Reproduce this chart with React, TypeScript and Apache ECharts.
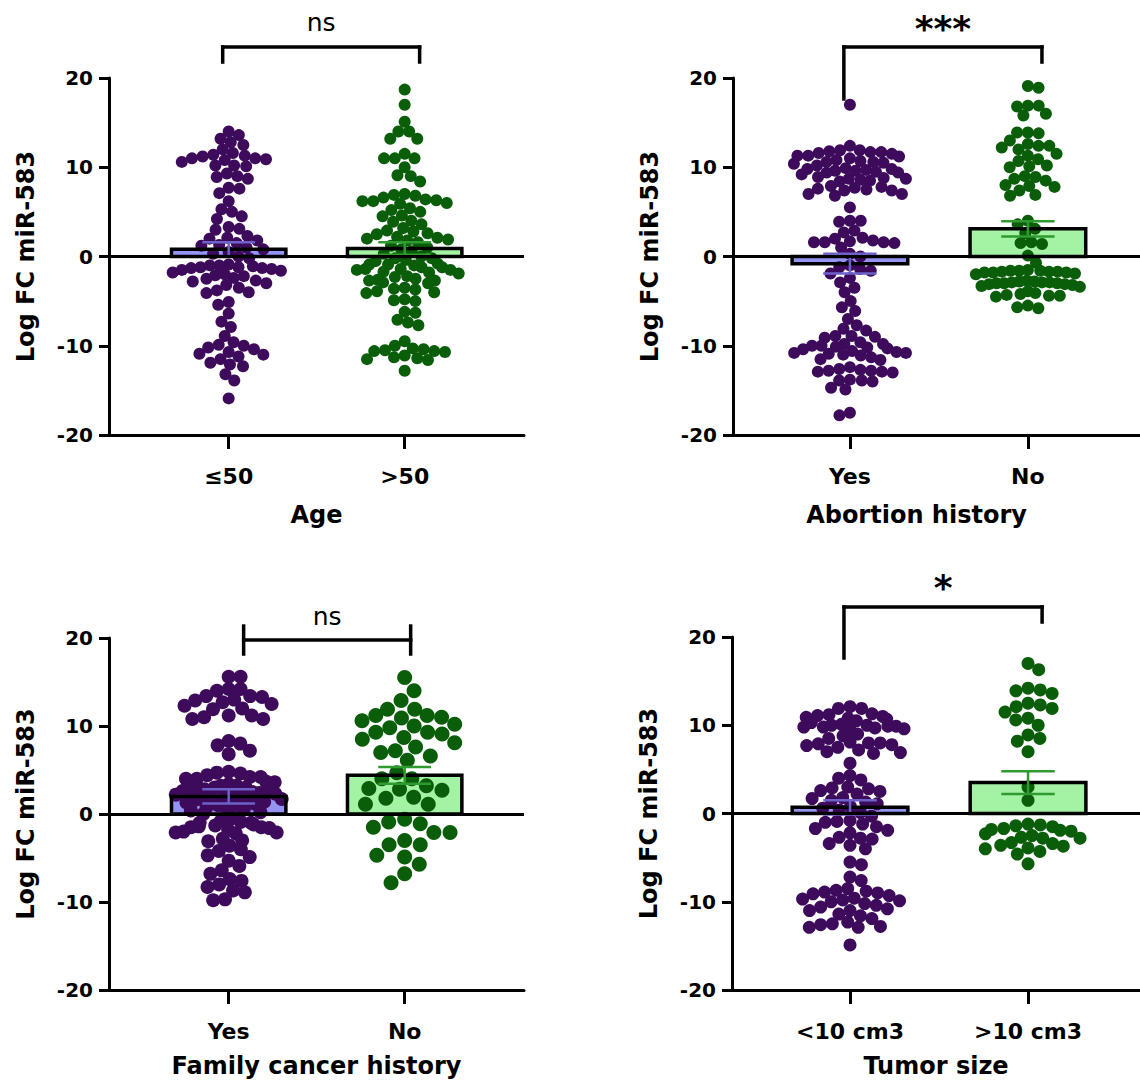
import React, { useEffect, useRef } from "react";
import * as echarts from "echarts";

// ---------- categories ----------
const ageCats = ["≤50", ">50"];
const abortionCats = ["Yes", "No"];
const familyCats = ["Yes", "No"];
const tumorCats = ["<10 cm3", ">10 cm3"];

const xTitles = ["Age", "Abortion history", "Family cancer history", "Tumor size"];
const yTitle = "Log FC miR-583";
const yTicks = [-20, -10, 0, 10, 20];
const sigLabels = ["ns", "***", "ns", "*"];

// ---------- individual values (Log FC miR-583) ----------
const ageLe50 = [
  14.0, 13.6, 13.2, 12.8, 12.5, 12.0, 11.6, 11.3, 11.0, 11.0, 11.2, 10.9, 10.8, 10.6, 10.2, 10.2, 10.1, 11.4,
  9.3, 9.0, 8.9, 8.7, 7.7, 7.6, 7.1, 6.2, 5.3, 5.0, 4.5, 4.2, 3.3, 3.1, 3.0,
  2.3, 2.1, 2.0, 1.8, 1.5, 1.3, 1.2, 1.0, 0.8, 0.5, 0.3, 0.0, -0.2,
  -0.9, -1.0, -1.1, -1.2, -1.2, -1.3, -1.4, -1.5, -1.6, -1.0, -1.3,
  -1.8, -2.0, -2.1, -2.2, -2.4, -2.5, -2.7, -2.8, -3.0, -3.2, -3.5, -3.8, -4.0, -4.1,
  -5.1, -5.4, -6.4, -7.3, -7.9, -8.9,
  -9.6, -9.9, -10.0, -10.2, -10.4, -10.7, -10.9, -11.0, -11.2, -11.5, -11.9, -12.1, -12.3, -13.2, -13.9, -15.9,
];
const ageGt50 = [
  18.7, 17.0, 15.1, 14.0, 14.0, 13.2, 13.2, 11.5, 11.0, 11.0, 11.0, 10.0, 9.1, 9.0, 8.4,
  7.0, 6.9, 6.8, 6.6, 6.4, 6.3, 6.2, 6.2, 6.0, 5.9, 5.4, 5.2, 5.0, 4.6, 4.5,
  4.0, 3.9, 3.6, 3.2, 2.9, 2.8, 2.6, 2.5, 2.2, 2.1, 2.0, 1.9, 1.8, 1.6,
  1.2, 1.0, 0.8, 0.6, 0.3, 0.0, -0.2, -0.4,
  -0.5, -0.8, -0.9, -0.9, -1.0, -1.2, -1.2, -1.4, -1.4, -1.5, -1.5, -1.7, -1.8, -1.9, -0.2,
  -2.2, -2.3, -2.5, -2.6, -2.7, -2.7, -2.9, -3.0, -3.5, -3.6, -3.7, -3.9, -4.0, -4.1,
  -4.8, -4.9, -5.0, -6.2, -6.3, -7.1, -7.4, -7.7,
  -9.5, -10.0, -10.3, -10.4, -10.5, -10.6, -10.6, -10.7, -11.1, -11.3, -11.4, -11.5, -11.6, -12.8,
];
const abortionYes = [
  17.0,
  12.4, 11.9, 11.9, 11.8, 11.7, 11.7, 11.6, 11.5, 11.3, 11.3, 11.2, 11.0,
  10.8, 10.7, 10.6, 10.6, 10.5, 10.4, 10.2, 9.9, 9.8, 9.8, 9.7, 9.6, 9.6, 9.5, 9.4, 9.4, 9.2,
  8.9, 8.8, 8.7, 8.7, 8.6, 8.5, 8.4, 7.9, 7.8, 7.7, 7.6, 7.5, 7.4, 7.4, 7.0, 7.0, 6.8,
  5.5, 4.0, 4.0, 3.9, 2.9, 2.7, 2.1, 2.0, 1.8, 1.7, 1.6, 1.6, 1.6, 1.5, 1.0, 0.3, 0.0,
  -1.0, -1.2, -1.4, -1.6, -1.9, -2.4, -2.9, -3.5, -4.0, -5.0, -5.7, -6.1, -7.0, -7.7, -8.1, -8.3, -8.9, -8.9, -9.0, -9.1,
  -9.6, -9.8, -9.8, -10.0, -10.0, -10.1, -10.2, -10.3, -10.4, -10.6, -10.7, -10.8, -10.8, -10.9, -11.0, -11.1, -11.3, -11.5, -11.6,
  -12.4, -12.6, -12.7, -12.8, -12.8, -12.9, -12.9, -13.0, -13.9, -13.9, -13.8, -14.0, -14.7, -14.9, -17.5, -17.8,
];
const abortionNo = [
  19.1, 18.9, 16.9, 16.9, 16.8, 16.0, 15.8, 13.9, 13.9, 13.8, 13.0, 12.6, 12.4, 12.4, 12.2, 12.0, 11.5, 11.3,
  10.9, 10.7, 10.2, 10.1, 10.0, 9.0, 8.9, 8.7, 8.5, 8.0, 7.9, 7.8, 7.4, 6.9, 6.8,
  4.0, 3.6, 3.1, 2.6, 1.6, 1.5, 1.4, 0.1,
  -0.7, -1.5, -1.6, -1.6, -1.6, -1.7, -1.7, -1.7, -1.8, -1.8, -1.8, -1.9, -2.0,
  -2.7, -2.8, -2.8, -2.9, -2.9, -2.9, -3.0, -3.0, -3.0, -3.1, -3.1, -3.2, -3.3, -3.4,
  -3.9, -4.1, -4.2, -4.3, -4.4, -4.4, -4.5, -5.5, -5.7, -5.8,
];
const familyYes = [
  15.6, 15.6, 14.2, 14.2, 14.0, 13.4, 13.4, 13.3, 13.0, 12.9, 12.7, 12.5, 12.3, 12.0, 11.9, 11.2, 11.2, 11.0, 10.8, 10.8,
  8.3, 8.0, 7.8, 7.2, 6.8,
  4.8, 4.7, 4.6, 4.4, 4.2, 4.2, 4.0, 4.0, 3.7, 3.6, 3.4, 3.2, 3.2, 3.0, 3.0, 2.9, 2.8, 2.8, 2.7, 2.6, 2.5, 2.4, 2.3, 2.2, 2.1, 2.0,
  1.9, 1.8, 1.7, 1.7, 1.6, 1.5, 1.4, 1.3, 1.2, 1.0, 0.9, 0.8, 0.7, 0.5, 0.4, 0.2, 0.0,
  -0.5, -0.8, -0.9, -1.0, -1.0, -1.2, -1.3, -1.4, -1.5, -1.5, -1.6, -1.8, -2.0, -2.1, -2.1, -2.2,
  -2.8, -3.0, -3.1, -3.6, -4.0, -4.2, -4.7, -4.9, -5.3, -5.9, -6.4, -6.8,
  -7.4, -7.6, -8.0, -8.3, -8.7, -8.9, -9.7, -9.8,
];
const familyNo = [
  15.5, 14.0, 12.9, 11.9, 11.9, 11.2, 11.0, 10.6, 10.9, 11.2, 10.0, 10.2, 9.8, 9.3, 9.3, 8.1, 8.7, 9.1, 8.5,
  7.2, 7.0, 7.6, 6.6, 6.1, 4.7, 4.0, 4.0, 2.8, 2.7, 2.9, 3.2, 1.8, 1.9, 1.1, 1.1,
  -0.6, -1.1, -0.9, -2.1, -1.5, -2.1, -3.0, -3.5, -3.5, -4.7, -4.9, -5.7, -6.8, -7.8,
];
const tumorSmall = [
  12.1, 11.9, 11.9, 11.3, 11.2, 11.1, 11.0, 10.9, 10.8, 10.7, 10.5, 10.3, 10.1, 10.0, 10.0, 9.9, 9.9, 9.8, 9.8, 9.7, 9.6, 9.5,
  9.0, 8.8, 8.5, 8.1, 8.0, 8.0, 7.9, 7.8, 7.7, 7.5, 7.2, 7.0, 6.9, 6.8,
  5.7, 4.3, 4.0, 3.8, 3.0, 2.9, 2.8, 2.6, 2.5, 2.2, 1.8, 1.7, 1.5, 1.3, 1.1, 0.8, 0.6, 0.4, 0.1,
  -0.3, -0.8, -0.9, -1.0, -1.2, -1.5, -1.7, -1.9, -2.2, -2.7, -2.8, -2.9, -3.4, -3.6, -4.0, -5.5, -5.8,
  -7.2, -7.6, -8.5, -8.7, -8.8, -8.9, -9.0, -9.1, -9.3, -9.6, -9.7, -9.8, -9.9, -10.0, -10.2, -10.4, -10.6, -10.8,
  -11.0, -11.0, -11.4, -11.6, -11.9, -12.3, -12.5, -12.6, -12.8, -12.9, -12.9, -14.9,
];
const tumorLarge = [
  17.0, 16.3, 14.2, 14.0, 13.9, 13.6, 12.5, 12.3, 12.1, 11.9, 11.5, 10.8, 10.6, 10.0, 8.9, 8.5, 8.2, 7.0, 3.0, 1.5,
  -1.2, -1.3, -1.4, -1.5, -1.7, -1.8, -1.9, -2.0, -2.3, -2.5, -2.7, -2.8, -2.8, -3.3, -3.4, -3.6, -3.7, -3.9, -4.0,
  -4.3, -4.6, -5.7,
];

// ---------- bar heights (mean) and error (SEM) ----------
const ageMean = [0.8, 0.9];
const ageSem = [0.8, 0.7];
const abortionMean = [-0.8, 3.1];
const abortionSem = [1.1, 0.85];
const familyMean = [2.0, 4.4];
const familySem = [0.8, 0.95];
const tumorMean = [0.7, 3.5];
const tumorSem = [0.8, 1.3];

// ---------- layout / style ----------
const FONT = "DejaVu Sans";
const PURPLE = "#3e0b5c";
const GREEN = "#0a5e0a";
const FILLS = ["#9494f2", "#a4f2a4"];
const ERR = ["#6d62c8", "#2f9a2f"];

type Panel = {
  cats: string[];
  groups: number[][];
  mean: number[];
  sem: number[];
  grid: { left: number; top: number; width: number; height: number };
  xMin: number;
  xMax: number;
  dots: number[];
  spacing: number[];
  halfW: number[];
  titlePad: number;
  nameGap: number;
  bracket: { x1: number; x2: number; yBar: number; l: [number, number]; r: [number, number]; textDy: number; big: boolean };
};

const panels: Panel[] = [
  {
    cats: ageCats, groups: [ageLe50, ageGt50], mean: ageMean, sem: ageSem,
    grid: { left: 109, top: 78, width: 415, height: 357 }, xMin: 0.32, xMax: 2.678,
    dots: [12, 12], spacing: [0.9, 0.9], halfW: [56, 54], titlePad: 0, nameGap: 68,
    bracket: { x1: 0.966, x2: 2.085, yBar: 23.47, l: [23.47, 21.79], r: [23.47, 21.79], textDy: 25, big: false },
  },
  {
    cats: abortionCats, groups: [abortionYes, abortionNo], mean: abortionMean, sem: abortionSem,
    grid: { left: 733, top: 78, width: 407, height: 357 }, xMin: 0.343, xMax: 2.63,
    dots: [12, 12], spacing: [0.9, 0.9], halfW: [56, 52], titlePad: 40, nameGap: 68,
    bracket: { x1: 0.966, x2: 2.079, yBar: 23.47, l: [23.47, 17.65], r: [23.47, 21.79], textDy: 19, big: true },
  },
  {
    cats: familyCats, groups: [familyYes, familyNo], mean: familyMean, sem: familySem,
    grid: { left: 109, top: 638, width: 415, height: 352 }, xMin: 0.32, xMax: 2.678,
    dots: [14, 15], spacing: [0.85, 1.08], halfW: [53, 50], titlePad: 0, nameGap: 64,
    bracket: { x1: 1.085, x2: 2.034, yBar: 19.77, l: [21.36, 18.18], r: [21.36, 18.18], textDy: 24, big: false },
  },
  {
    cats: tumorCats, groups: [tumorSmall, tumorLarge], mean: tumorMean, sem: tumorSem,
    grid: { left: 732, top: 637, width: 408, height: 353 }, xMin: 0.337, xMax: 2.629,
    dots: [13, 13], spacing: [0.9, 0.95], halfW: [54, 52], titlePad: 0, nameGap: 64,
    bracket: { x1: 0.966, x2: 2.079, yBar: 23.4, l: [23.4, 17.62], r: [23.4, 21.7], textDy: 19, big: true },
  },
];

// beeswarm layout (horizontal offsets in data units), then squeezed locally
// so each column stays within +-halfW pixels like a GraphPad scatter column
function swarm(values: number[], pxPerY: number, pxPerX: number, diam: number, halfW: number): number[] {
  const order = values.map((_, i) => i).sort((a, b) => values[b] - values[a]);
  const placed: { x: number; y: number; i: number }[] = [];
  const d2 = diam * diam;
  let flip = 1;
  for (const i of order) {
    const y = values[i] * pxPerY;
    const cands: number[] = [0];
    for (const p of placed) {
      const dy = Math.abs(p.y - y);
      if (dy < diam) {
        const dx = Math.sqrt(d2 - dy * dy);
        cands.push(p.x + dx, p.x - dx);
      }
    }
    cands.sort((a, b) => Math.abs(a) - Math.abs(b) || (a - b) * flip);
    flip = -flip;
    let chosen = 0;
    for (const c of cands) {
      let ok = true;
      for (const p of placed) {
        const dx = p.x - c;
        const dy = p.y - y;
        if (dx * dx + dy * dy < d2 - 0.01) { ok = false; break; }
      }
      if (ok) { chosen = c; break; }
    }
    placed.push({ x: chosen, y, i });
  }
  const out: number[] = new Array(values.length).fill(0);
  for (const p of placed) {
    let m = 0;
    for (const q of placed) {
      if (Math.abs(q.y - p.y) < diam * 0.7) m = Math.max(m, Math.abs(q.x));
    }
    const x = m > halfW ? (p.x * halfW) / m : p.x;
    out[p.i] = x / pxPerX;
  }
  return out;
}

const BAR_W = 0.65;
const CAP_W = 0.3;

function buildOption() {
  const grid: any[] = [];
  const xAxis: any[] = [];
  const yAxis: any[] = [];
  const series: any[] = [];

  panels.forEach((p, k) => {
    grid.push({ ...p.grid, containLabel: false });
    const pxPerX = p.grid.width / (p.xMax - p.xMin);
    const pxPerY = p.grid.height / 40;
    xAxis.push({
      gridIndex: k, type: "value", min: p.xMin, max: p.xMax,
      axisLine: { show: true, onZero: false, lineStyle: { color: "#000", width: 3 } },
      axisTick: { show: true, customValues: [1, 2], length: 14, lineStyle: { color: "#000", width: 3 } },
      axisLabel: {
        show: true, customValues: [1, 2], margin: 30, color: "#000", fontFamily: FONT, fontWeight: "bold", fontSize: 22,
        formatter: (v: number) => p.cats[Math.round(v) - 1] ?? "",
      },
      splitLine: { show: false },
      name: xTitles[k], nameLocation: "middle", nameGap: p.nameGap,
      nameTextStyle: {
        color: "#000", fontFamily: FONT, fontWeight: "bold", fontSize: 24,
        padding: [0, p.titlePad, 0, 0],
      },
    });
    yAxis.push({
      gridIndex: k, type: "value", min: yTicks[0], max: yTicks[yTicks.length - 1], interval: 10,
      axisLine: { show: true, onZero: false, lineStyle: { color: "#000", width: 3 } },
      axisTick: { show: true, length: 10, lineStyle: { color: "#000", width: 3 } },
      axisLabel: { color: "#000", fontFamily: FONT, fontWeight: "bold", fontSize: 20, margin: 16 },
      splitLine: { show: false },
      name: yTitle, nameLocation: "middle", nameGap: 71, nameRotate: 90,
      nameTextStyle: { color: "#000", fontFamily: FONT, fontWeight: "bold", fontSize: 24 },
    });

    const barData = p.mean.map((m, g) => [g + 1, m, p.sem[g], g]);

    // bar fills
    series.push({
      type: "custom", xAxisIndex: k, yAxisIndex: k, z: 1, silent: true,
      encode: { x: 0, y: 1 }, data: barData,
      renderItem: (_: any, api: any) => {
        const x = api.value(0), m = api.value(1), g = api.value(3);
        const a = api.coord([x - BAR_W / 2, 0]);
        const b = api.coord([x + BAR_W / 2, m]);
        return {
          type: "rect",
          shape: { x: a[0], y: Math.min(a[1], b[1]), width: b[0] - a[0], height: Math.abs(a[1] - b[1]) },
          style: { fill: FILLS[g] },
        };
      },
    });

    // dots
    p.groups.forEach((vals, g) => {
      const offs = swarm(vals, pxPerY, pxPerX, p.dots[g] * p.spacing[g], p.halfW[g]);
      series.push({
        type: "scatter", xAxisIndex: k, yAxisIndex: k, z: 2, silent: true,
        symbol: "circle", symbolSize: p.dots[g],
        itemStyle: { color: g === 0 ? PURPLE : GREEN, opacity: 1 },
        data: vals.map((v, i) => [g + 1 + offs[i], v]),
        markLine: g === 0 ? {
          silent: true, symbol: ["none", "none"], label: { show: false },
          lineStyle: { color: "#000", width: 3, type: "solid" },
          data: [{ yAxis: 0 }],
        } : undefined,
      });
    });

    // bar borders + error bars
    series.push({
      type: "custom", xAxisIndex: k, yAxisIndex: k, z: 3, silent: true,
      encode: { x: 0, y: 1 }, data: barData,
      renderItem: (_: any, api: any) => {
        const x = api.value(0), m = api.value(1), s = api.value(2), g = api.value(3);
        const a = api.coord([x - BAR_W / 2, 0]);
        const b = api.coord([x + BAR_W / 2, m]);
        const top = api.coord([x, m + s]);
        const bot = api.coord([x, m - s]);
        const cl = api.coord([x - CAP_W / 2, m])[0];
        const cr = api.coord([x + CAP_W / 2, m])[0];
        const errStyle = { stroke: ERR[g], lineWidth: 2.5 };
        return {
          type: "group",
          children: [
            {
              type: "rect",
              shape: { x: a[0], y: Math.min(a[1], b[1]), width: b[0] - a[0], height: Math.abs(a[1] - b[1]) },
              style: { fill: "none", stroke: "#000", lineWidth: 3.5 },
            },
            { type: "line", shape: { x1: top[0], y1: top[1], x2: bot[0], y2: bot[1] }, style: errStyle },
            { type: "line", shape: { x1: cl, y1: top[1], x2: cr, y2: top[1] }, style: errStyle },
            { type: "line", shape: { x1: cl, y1: bot[1], x2: cr, y2: bot[1] }, style: errStyle },
          ],
        };
      },
    });

    // significance bracket
    const br = p.bracket;
    series.push({
      type: "custom", xAxisIndex: k, yAxisIndex: k, z: 4, silent: true, clip: false,
      data: [[br.x1, br.yBar]], encode: { x: 0, y: 1 },
      renderItem: (_: any, api: any) => {
        const A = api.coord([br.x1, br.yBar]);
        const B = api.coord([br.x2, br.yBar]);
        const L1 = api.coord([br.x1, br.l[0]]);
        const L2 = api.coord([br.x1, br.l[1]]);
        const R1 = api.coord([br.x2, br.r[0]]);
        const R2 = api.coord([br.x2, br.r[1]]);
        const st = { stroke: "#000", lineWidth: 3.5, lineCap: "square" };
        return {
          type: "group",
          children: [
            { type: "line", shape: { x1: A[0], y1: A[1], x2: B[0], y2: B[1] }, style: st },
            { type: "line", shape: { x1: L1[0], y1: L1[1], x2: L2[0], y2: L2[1] }, style: st },
            { type: "line", shape: { x1: R1[0], y1: R1[1], x2: R2[0], y2: R2[1] }, style: st },
            {
              type: "text", x: (A[0] + B[0]) / 2, y: A[1] - br.textDy,
              style: {
                text: sigLabels[k], fill: "#000", fontFamily: FONT,
                fontSize: br.big ? 36 : 25, fontWeight: br.big ? "bold" : "normal",
                align: "center", verticalAlign: "middle",
              },
            },
          ],
        };
      },
    });
  });

  return {
    animation: false,
    backgroundColor: "#fff",
    textStyle: { fontFamily: FONT },
    grid, xAxis, yAxis, series,
  };
}

export default function App() {
  const ref = useRef<HTMLDivElement>(null);
  useEffect(() => {
    if (!ref.current) return;
    const chart = echarts.init(ref.current, undefined, { renderer: "svg" });
    chart.setOption(buildOption() as any);
    return () => chart.dispose();
  }, []);
  return (
    <div
      ref={ref}
      style={{ position: "absolute", left: 0, top: 0, width: 1140, height: 1088, background: "#fff" }}
    />
  );
}
